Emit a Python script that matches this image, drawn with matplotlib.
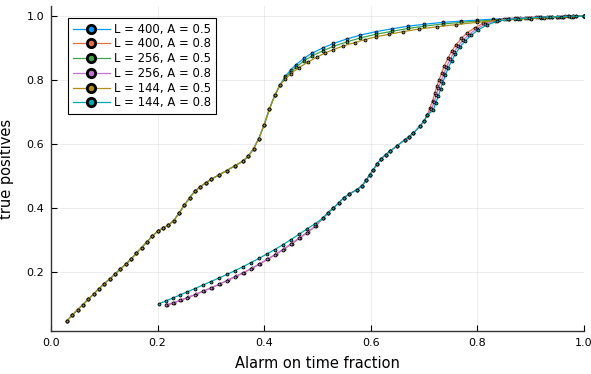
import matplotlib
matplotlib.use("Agg")
import matplotlib.pyplot as plt
from matplotlib.lines import Line2D

# ---- data ----
# A = 0.5 curves share the same lower part, they split above ~0.43
low05_x = [0.030, 0.040, 0.050, 0.060, 0.070, 0.080, 0.090, 0.100, 0.110, 0.120,
           0.130, 0.140, 0.150, 0.160, 0.170, 0.180, 0.190, 0.200, 0.210, 0.220,
           0.230, 0.240, 0.250, 0.260, 0.270, 0.280, 0.290, 0.300, 0.315, 0.330,
           0.345, 0.360, 0.370, 0.380, 0.390, 0.400, 0.410, 0.420, 0.430]
low05_y = [0.048, 0.065, 0.082, 0.098, 0.115, 0.131, 0.148, 0.163, 0.178, 0.193,
           0.209, 0.224, 0.240, 0.258, 0.276, 0.294, 0.312, 0.327, 0.337, 0.346,
           0.360, 0.383, 0.408, 0.432, 0.452, 0.466, 0.478, 0.489, 0.503, 0.517,
           0.532, 0.546, 0.561, 0.585, 0.617, 0.660, 0.710, 0.752, 0.785]

tail_400_05_x = [0.440, 0.450, 0.460, 0.475, 0.490, 0.510, 0.530, 0.555, 0.580, 0.610,
                 0.640, 0.670, 0.700, 0.735, 0.770, 0.800, 0.830, 0.860, 0.880, 0.900,
                 0.920, 0.940, 0.960, 0.980, 1.000]
tail_400_05_y = [0.812, 0.832, 0.848, 0.868, 0.884, 0.900, 0.914, 0.928, 0.940, 0.951,
                 0.960, 0.968, 0.974, 0.980, 0.984, 0.987, 0.990, 0.992, 0.993, 0.994,
                 0.996, 0.997, 0.998, 0.999, 1.000]

tail_256_05_x = [0.440, 0.450, 0.460, 0.475, 0.490, 0.510, 0.530, 0.555, 0.580, 0.610,
                 0.640, 0.670, 0.700, 0.735, 0.770, 0.800, 0.830, 0.860, 0.880, 0.900,
                 0.920, 0.940, 0.960, 0.980, 1.000]
tail_256_05_y = [0.808, 0.826, 0.840, 0.860, 0.875, 0.891, 0.905, 0.919, 0.931, 0.943,
                 0.952, 0.961, 0.968, 0.975, 0.980, 0.984, 0.987, 0.990, 0.991, 0.993,
                 0.994, 0.996, 0.997, 0.998, 1.000]

tail_144_05_x = [0.440, 0.450, 0.465, 0.483, 0.500, 0.514, 0.530, 0.548, 0.570, 0.589,
                 0.610, 0.635, 0.661, 0.690, 0.724, 0.760, 0.800, 0.840, 0.870, 0.900,
                 0.925, 0.950, 0.975, 1.000]
tail_144_05_y = [0.803, 0.820, 0.838, 0.857, 0.872, 0.884, 0.895, 0.906, 0.917, 0.926,
                 0.935, 0.943, 0.951, 0.959, 0.966, 0.973, 0.980, 0.986, 0.989, 0.992,
                 0.994, 0.996, 0.998, 1.000]

# A = 0.8 curves: separate starts, common middle, separate steep tails
start_144_08_x = [0.203, 0.215, 0.228, 0.242, 0.256, 0.270, 0.285, 0.300, 0.315, 0.330,
                  0.345, 0.360, 0.375, 0.390, 0.405, 0.420, 0.435, 0.450, 0.465, 0.480,
                  0.495]
start_144_08_y = [0.101, 0.109, 0.118, 0.128, 0.138, 0.148, 0.159, 0.170, 0.181, 0.192,
                  0.204, 0.216, 0.229, 0.242, 0.256, 0.270, 0.285, 0.301, 0.317, 0.334,
                  0.350]

start_256_08_x = [0.216, 0.228, 0.242, 0.256, 0.270, 0.285, 0.300, 0.315, 0.330, 0.345,
                  0.360, 0.375, 0.390, 0.405, 0.420, 0.435, 0.450, 0.465, 0.480, 0.495]
start_256_08_y = [0.097, 0.103, 0.111, 0.120, 0.129, 0.140, 0.150, 0.161, 0.173, 0.185,
                  0.197, 0.210, 0.224, 0.239, 0.254, 0.270, 0.287, 0.305, 0.323, 0.342]

start_400_08_x = [0.218, 0.230, 0.244, 0.258, 0.272, 0.287, 0.302, 0.317, 0.332, 0.347,
                  0.362, 0.377, 0.392, 0.407, 0.422, 0.437, 0.452, 0.467, 0.482, 0.497]
start_400_08_y = [0.096, 0.103, 0.112, 0.121, 0.130, 0.141, 0.151, 0.162, 0.174, 0.186,
                  0.198, 0.211, 0.225, 0.240, 0.255, 0.271, 0.288, 0.306, 0.324, 0.343]

mid08_x = [0.510, 0.520, 0.530, 0.540, 0.549, 0.560, 0.574, 0.584, 0.592, 0.598,
           0.605, 0.612, 0.620, 0.628, 0.636, 0.650, 0.664, 0.672, 0.680, 0.692,
           0.700, 0.706]
mid08_y = [0.368, 0.385, 0.400, 0.416, 0.431, 0.444, 0.457, 0.470, 0.488, 0.504,
           0.520, 0.538, 0.554, 0.567, 0.577, 0.595, 0.613, 0.623, 0.634, 0.655,
           0.672, 0.690]

tail_400_08_x = [0.711, 0.716, 0.720, 0.724, 0.728, 0.733, 0.738, 0.745, 0.752, 0.760,
                 0.770, 0.780, 0.795, 0.811, 0.830, 0.850, 0.870, 0.890, 0.910, 0.930,
                 0.950, 0.965, 0.980, 1.000]
tail_400_08_y = [0.712, 0.735, 0.758, 0.780, 0.800, 0.822, 0.845, 0.868, 0.890, 0.910,
                 0.930, 0.946, 0.963, 0.977, 0.986, 0.991, 0.993, 0.995, 0.996, 0.997,
                 0.998, 0.999, 0.999, 1.000]

tail_256_08_x = [0.714, 0.719, 0.723, 0.727, 0.732, 0.737, 0.742, 0.749, 0.756, 0.764,
                 0.774, 0.784, 0.799, 0.815, 0.834, 0.854, 0.874, 0.894, 0.914, 0.934,
                 0.954, 0.970, 0.985, 1.000]
tail_256_08_y = [0.708, 0.731, 0.754, 0.776, 0.796, 0.818, 0.841, 0.864, 0.886, 0.906,
                 0.926, 0.942, 0.960, 0.975, 0.985, 0.990, 0.993, 0.995, 0.996, 0.997,
                 0.998, 0.999, 0.999, 1.000]

tail_144_08_x = [0.717, 0.722, 0.727, 0.731, 0.735, 0.740, 0.745, 0.752, 0.759, 0.767,
                 0.777, 0.788, 0.802, 0.818, 0.837, 0.857, 0.877, 0.897, 0.917, 0.937,
                 0.957, 0.972, 0.986, 1.000]
tail_144_08_y = [0.705, 0.728, 0.750, 0.772, 0.792, 0.814, 0.837, 0.860, 0.882, 0.902,
                 0.922, 0.939, 0.957, 0.972, 0.983, 0.989, 0.992, 0.994, 0.996, 0.997,
                 0.998, 0.999, 0.999, 1.000]

labels = ["L = 400, A = 0.5", "L = 400, A = 0.8", "L = 256, A = 0.5",
          "L = 256, A = 0.8", "L = 144, A = 0.5", "L = 144, A = 0.8"]
colors = ["#009AFA", "#E36F47", "#3EA44E", "#C371D2", "#AC8E18", "#00A9AD"]

series = [
    (low05_x + tail_400_05_x, low05_y + tail_400_05_y),
    (start_400_08_x + mid08_x + tail_400_08_x, start_400_08_y + mid08_y + tail_400_08_y),
    (low05_x + tail_256_05_x, low05_y + tail_256_05_y),
    (start_256_08_x + mid08_x + tail_256_08_x, start_256_08_y + mid08_y + tail_256_08_y),
    (low05_x + tail_144_05_x, low05_y + tail_144_05_y),
    (start_144_08_x + mid08_x + tail_144_08_x, start_144_08_y + mid08_y + tail_144_08_y),
]

fig = plt.figure(figsize=(5.91, 3.74), dpi=100)
ax = fig.add_axes([0.0863, 0.116, 0.9017, 0.867])

for (xs, ys), c in zip(series, colors):
    ax.plot(xs, ys, color=c, lw=0.9, marker="o", ms=2.1,
            markerfacecolor=c, markeredgecolor="black", markeredgewidth=0.6)

ax.set_xlim(0, 1)
ax.set_ylim(0.0166, 1.03)
ax.set_xticks([0.0, 0.2, 0.4, 0.6, 0.8, 1.0])
ax.set_yticks([0.2, 0.4, 0.6, 0.8, 1.0])
ax.set_xticklabels(["0.0", "0.2", "0.4", "0.6", "0.8", "1.0"])
ax.set_yticklabels(["0.2", "0.4", "0.6", "0.8", "1.0"])
ax.tick_params(direction="in", length=4, width=0.8, labelsize=8, colors="black",
               pad=5)
ax.grid(True, color="black", alpha=0.1, lw=0.5)
ax.set_axisbelow(True)
for s in ["top", "right"]:
    ax.spines[s].set_visible(False)
for s in ["left", "bottom"]:
    ax.spines[s].set_linewidth(1.0)
    ax.spines[s].set_color("#333333")

ax.set_xlabel("Alarm on time fraction", fontsize=10.5, labelpad=6)
ax.set_ylabel("true positives", fontsize=10.5, labelpad=9)

handles = [Line2D([0], [0], color=c, lw=0.9, marker="o", ms=6,
                  markerfacecolor=c, markeredgecolor="black", markeredgewidth=2)
           for c in colors]
leg = ax.legend(handles, labels, loc="upper left", bbox_to_anchor=(0.032, 0.964),
                borderaxespad=0, fontsize=8.4, handlelength=3.2, handletextpad=0.35,
                labelspacing=0.15, borderpad=0.4, fancybox=False, framealpha=1)
leg.get_frame().set_edgecolor("black")
leg.get_frame().set_linewidth(0.8)

fig.savefig("out.png", dpi=100)
